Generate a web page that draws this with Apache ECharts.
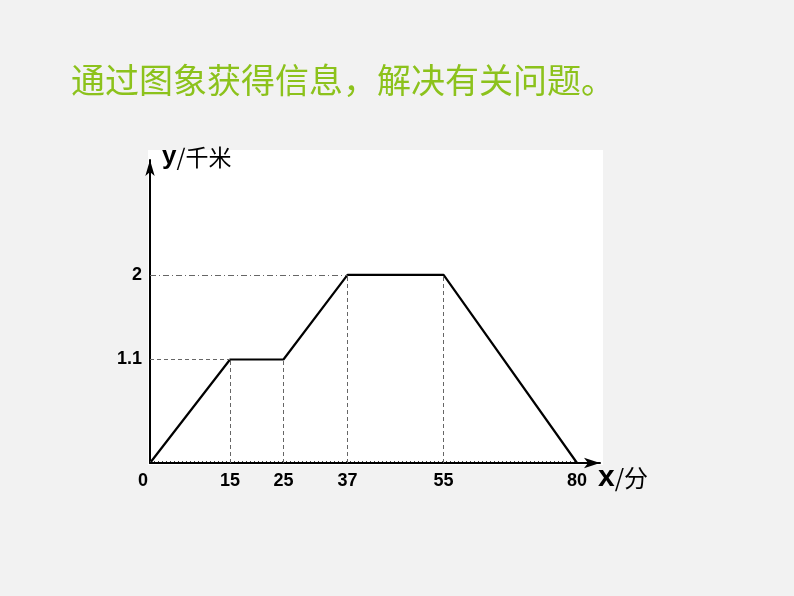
<!DOCTYPE html>
<html>
<head>
<meta charset="utf-8">
<script src="https://cdn.jsdelivr.net/npm/echarts@6/dist/echarts.min.js"></script>
<style>
  html, body { margin: 0; padding: 0; background: #f2f2f2; }
  #chart { width: 794px; height: 596px; }
</style>
</head>
<body>
<div id="chart"></div>
<script>
// 时间（分）与距离（千米）
var times = [0, 15, 25, 37, 55, 80];
var distance = [0, 1.1, 1.1, 2, 2, 0];
var xTicks = [0, 15, 25, 37, 55, 80];
var yTicks = [1.1, 2];

var points = times.map(function (t, i) { return [t, distance[i]]; });

// 虚线：从折点向坐标轴作垂线
var guides = [];
points.forEach(function (p, i) {
  if (i === 0 || i === points.length - 1) return;
  guides.push([{ coord: [p[0], 0] }, { coord: [p[0], p[1]] }]);
});
yTicks.forEach(function (v) {
  var first = points.find(function (p) { return p[1] === v; });
  var dash = v === 2 ? [6, 3, 1, 3] : [4, 3];
  guides.push([
    { coord: [0, v], lineStyle: { type: dash } },
    { coord: [first[0], v] }
  ]);
});
// 横轴上方的点线
guides.push([
  { coord: [0, 0.02], lineStyle: { type: [1, 3], color: '#444' } },
  { coord: [times[times.length - 1], 0.02] }
]);

var tickFont = { color: '#000', fontSize: 18, fontWeight: 'bold', fontFamily: 'Liberation Sans' };

var myChart = echarts.init(document.getElementById('chart'));
myChart.setOption({
  backgroundColor: '#f2f2f2',
  animation: false,
  title: {
    text: '通过图象获得信息，解决有关问题。',
    left: 66,
    top: 58,
    textStyle: {
      color: '#8cc21c',
      fontSize: 34,
      fontWeight: 'normal',
      fontFamily: 'Noto Sans CJK SC'
    }
  },
  graphic: [{
    type: 'rect',
    z: -10,
    left: 148,
    top: 150,
    shape: { width: 455, height: 315 },
    style: { fill: '#ffffff' }
  }],
  grid: { left: 150, right: 194, top: 160, bottom: 133 },
  xAxis: {
    type: 'value',
    min: 0,
    max: 84.3,
    name: '{b|x}{n|/分}',
    nameLocation: 'end',
    nameGap: -2,
    nameTextStyle: {
      verticalAlign: 'middle',
      padding: [30, 0, 0, 0],
      rich: {
        b: { fontSize: 30, fontWeight: 'bold', fontFamily: 'Liberation Sans', color: '#000' },
        n: { fontSize: 24, fontFamily: 'Noto Sans CJK SC', color: '#000' }
      }
    },
    axisLine: {
      onZero: false,
      symbol: ['none', 'arrow'],
      symbolSize: [8, 16],
      lineStyle: { color: '#000', width: 2 }
    },
    axisTick: { show: false },
    splitLine: { show: false },
    axisLabel: Object.assign({
      customValues: xTicks,
      margin: 9,
      formatter: function (v) { return v === 0 ? '{o|0}' : String(v); },
      rich: { o: Object.assign({ padding: [0, 14, 0, 0] }, tickFont) }
    }, tickFont)
  },
  yAxis: {
    type: 'value',
    min: 0,
    max: 3.22,
    name: '{b|y}{n|/千米}',
    nameLocation: 'end',
    nameGap: 3,
    nameTextStyle: {
      align: 'left',
      verticalAlign: 'middle',
      padding: [0, 0, 0, 12],
      rich: {
        b: { fontSize: 26, fontWeight: 'bold', fontFamily: 'Liberation Sans', color: '#000' },
        n: { fontSize: 23, fontFamily: 'Noto Sans CJK SC', color: '#000' }
      }
    },
    axisLine: {
      symbol: ['none', 'arrow'],
      symbolSize: [7, 16],
      lineStyle: { color: '#000', width: 2 }
    },
    axisTick: { show: false },
    splitLine: { show: false },
    axisLabel: Object.assign({
      customValues: yTicks,
      margin: 8
    }, tickFont)
  },
  series: [{
    type: 'line',
    data: points,
    symbol: 'none',
    lineStyle: { color: '#000', width: 2.2 },
    markLine: {
      silent: true,
      symbol: 'none',
      label: { show: false },
      lineStyle: { color: '#666', width: 1, type: [4, 3] },
      data: guides
    }
  }]
});
</script>
</body>
</html>
